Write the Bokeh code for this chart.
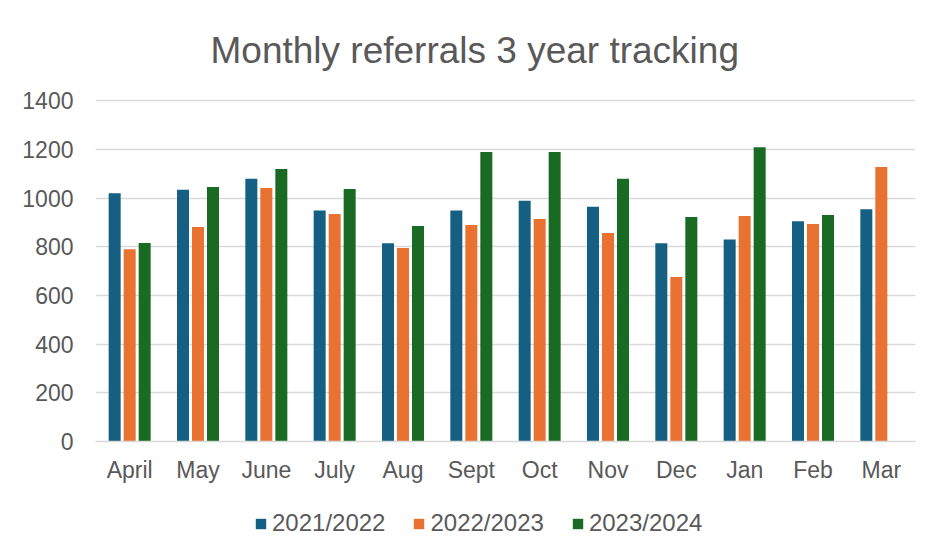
import math
from bokeh.plotting import figure
from bokeh.layouts import column
from bokeh.models import ColumnDataSource, FactorRange, Range1d, Legend, LegendItem, Title, FixedTicker
from bokeh.transform import dodge
from bokeh.embed import file_html
from bokeh.resources import INLINE

months = ["April", "May", "June", "July", "Aug", "Sept", "Oct", "Nov", "Dec", "Jan", "Feb", "Mar"]
y2122 = [1020, 1035, 1080, 950, 815, 950, 990, 965, 815, 830, 905, 955]
y2223 = [790, 882, 1042, 935, 795, 890, 915, 857, 676, 927, 894, 1128]
y2324 = [816, 1046, 1120, 1038, 886, 1190, 1190, 1080, 923, 1210, 931, float("nan")]
series_names = ["2021/2022", "2022/2023", "2023/2024"]
colors = ["#156082", "#E97132", "#196B24"]
y_ticks = [0, 200, 400, 600, 800, 1000, 1200, 1400]

source = ColumnDataSource(dict(months=months, a=y2122, b=y2223, c=y2324))

FONT = "Liberation Sans"
TXT = "#595959"
keys = ["a", "b", "c"]
offsets = [-0.2195, 0.0, 0.2195]

p = figure(x_range=FactorRange(*months), y_range=Range1d(0, 1410),
           width=920, height=485, output_backend="svg", toolbar_location=None,
           min_border_left=95, min_border_right=5, min_border_top=98, min_border_bottom=44)
p.outline_line_color = None

for key, off, col in zip(keys, offsets, colors):
    p.vbar(x=dodge("months", off, range=p.x_range), top=key, width=0.1756,
           source=source, fill_color=col, line_color=None)

p.yaxis.ticker = FixedTicker(ticks=y_ticks)
p.ygrid.ticker = FixedTicker(ticks=y_ticks)
p.ygrid.grid_line_color = "#D9D9D9"
p.ygrid.grid_line_width = 1.5
p.xgrid.grid_line_color = None

for ax in (p.xaxis, p.yaxis):
    ax.major_label_text_font = FONT
    ax.major_label_text_font_size = "23px"
    ax.major_label_text_color = TXT
    ax.major_tick_line_color = None
    ax.minor_tick_line_color = None
p.yaxis.axis_line_color = None
p.xaxis.axis_line_color = "#D9D9D9"
p.xaxis.axis_line_width = 1.5
p.yaxis.major_label_standoff = 16
p.xaxis.major_label_standoff = 9

title = Title(text="Monthly referrals 3 year tracking", align="left", offset=115,
              text_font=FONT, text_font_size="37px", text_color=TXT,
              text_font_style="normal", standoff=55)
p.add_layout(title, "above")

# legend strip below the chart: proxy renderers of the same data, kept out of view
lf = figure(width=920, height=52, output_backend="svg", toolbar_location=None,
            x_axis_type=None, y_axis_type=None, x_range=Range1d(-2, -1),
            y_range=FactorRange(*months),
            min_border_left=95, min_border_right=5, min_border_top=0, min_border_bottom=0)
lf.outline_line_color = None
lf.xgrid.grid_line_color = None
lf.ygrid.grid_line_color = None
items = []
for name, key, col in zip(series_names, keys, colors):
    r = lf.hbar(y="months", right=key, height=0.0001, source=source,
                fill_color=col, line_color=None)
    items.append(LegendItem(label=name, renderers=[r]))

legend = Legend(items=items, location=(159, 0), orientation="horizontal",
                glyph_width=13, glyph_height=13, label_standoff=5, spacing=27,
                padding=0, margin=0, border_line_color=None, background_fill_alpha=0,
                label_text_font=FONT, label_text_font_size="24px", label_text_color=TXT)
lf.add_layout(legend, "center")

layout = column(p, lf, spacing=0)
open("out.html", "w").write(file_html(layout, INLINE))
